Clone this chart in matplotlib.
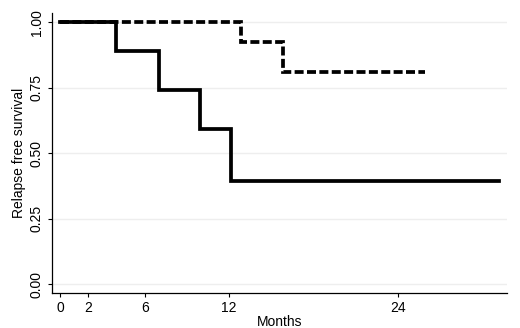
import matplotlib
matplotlib.use("Agg")
import matplotlib.pyplot as plt

# Kaplan-Meier step data (months, survival)
solid_t = [0, 4, 7, 9.9, 12.1, 31.1]
solid_s = [1.0, 0.889, 0.74, 0.593, 0.395, 0.395]
dashed_t = [0, 12.8, 15.8, 25.9]
dashed_s = [1.0, 0.923, 0.808, 0.808]

x_ticks = [0, 2, 6, 12, 24]
y_ticks = [0.0, 0.25, 0.5, 0.75, 1.0]
y_tick_labels = ["0.00", "0.25", "0.50", "0.75", "1.00"]

plt.rcParams["font.family"] = ["Liberation Sans", "DejaVu Sans"]

fig = plt.figure(figsize=(5.2, 3.28), dpi=100)
ax = fig.add_axes([52 / 520, (328 - 293) / 328, (507 - 52) / 520, (293 - 13) / 328])

for y in y_ticks:
    ax.axhline(y, color="#eeeeee", lw=1.0, zorder=0)

ax.step(solid_t, solid_s, where="post", color="black", lw=2.7, solid_joinstyle="miter")
ax.step(dashed_t, dashed_s, where="post", color="black", lw=2.7,
        linestyle=(0, (2.4, 0.9)), dash_joinstyle="miter")

ax.set_xlim(-0.57, 31.7)
ax.set_ylim(-0.034, 1.035)
ax.set_xticks(x_ticks)
ax.set_yticks(y_ticks)
ax.set_yticklabels(y_tick_labels, rotation=90, va="center")
ax.tick_params(labelsize=10, length=3, width=0.8, pad=3)
ax.set_xlabel("Months", fontsize=10, labelpad=0)
ax.set_ylabel("Relapse free survival", fontsize=10, labelpad=3)

for side in ["top", "right"]:
    ax.spines[side].set_visible(False)
for side in ["left", "bottom"]:
    ax.spines[side].set_linewidth(0.9)

fig.savefig("out.png", dpi=100)
